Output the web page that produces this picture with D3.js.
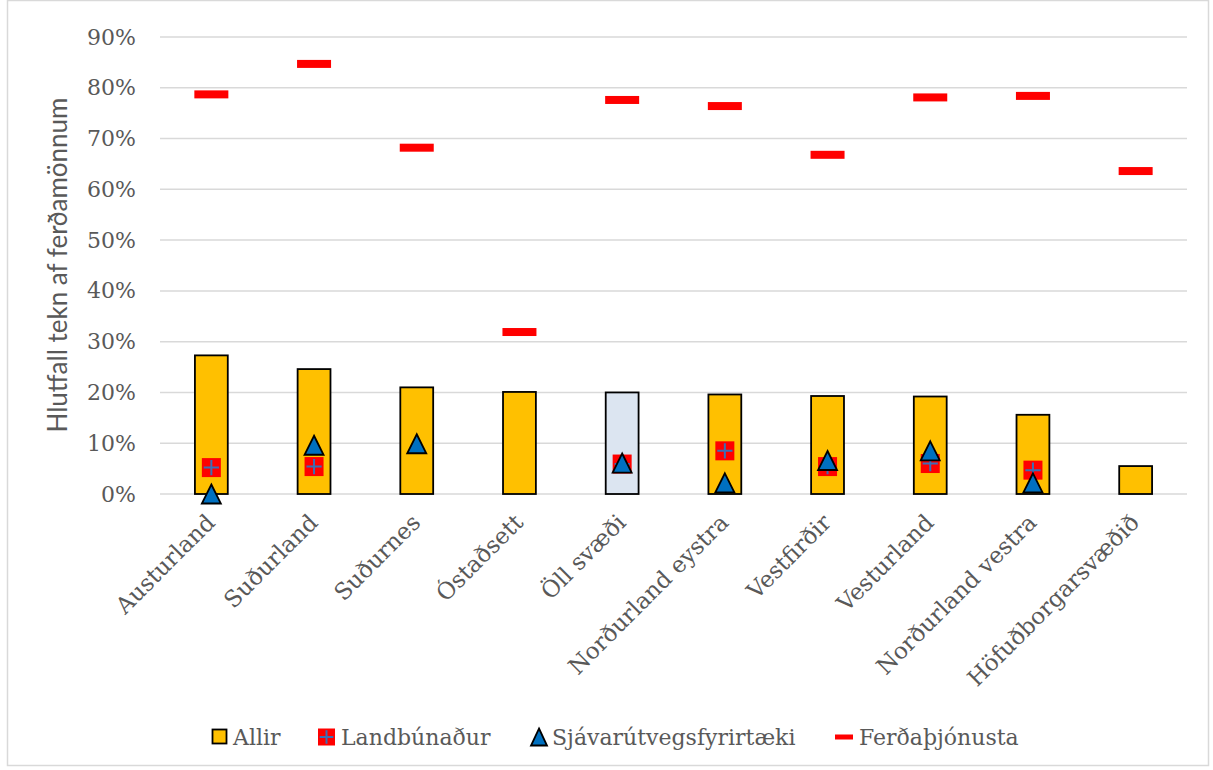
<!DOCTYPE html>
<html><head><meta charset="utf-8">
<script src="https://cdn.jsdelivr.net/npm/d3@7"></script>
<style>
html,body{margin:0;padding:0;background:#fff;}
svg{display:block;}
</style></head>
<body>
<svg id="chart" width="1213" height="770"></svg>
<script>
const categories = ["Austurland","Suðurland","Suðurnes","Óstaðsett","Öll svæði","Norðurland eystra","Vestfirðir","Vesturland","Norðurland vestra","Höfuðborgarsvæðið"];
const allir = [0.273,0.246,0.210,0.201,0.200,0.196,0.193,0.192,0.156,0.055];
const landbunadur = [0.052,0.054,null,null,0.059,0.085,0.054,0.060,0.047,null];
const sjavarutvegur = [0.000,0.096,0.099,null,0.061,0.022,0.066,0.085,0.022,null];
const ferdathjonusta = [0.787,0.847,0.682,0.319,0.776,0.764,0.668,0.781,0.784,0.636];
const yTicks = [0,0.1,0.2,0.3,0.4,0.5,0.6,0.7,0.8,0.9];
const seriesNames = ["Allir","Landbúnaður","Sjávarútvegsfyrirtæki","Ferðaþjónusta"];
const yTitle = "Hlutfall tekn af ferðamönnum";

const svg = d3.select("#chart");
const serif = "'DejaVu Serif', 'Liberation Serif', serif";
const sans = "Lato, 'Open Sans', 'Liberation Sans', sans-serif";
const grey = "#595959";

// outer border
svg.append("rect").attr("x",7.5).attr("y",0.5).attr("width",1201).attr("height",765)
  .attr("fill","none").attr("stroke","#d9d9d9").attr("stroke-width",1.5);

const x = d3.scaleBand().domain(categories).range([160,1187]).paddingInner(0.68).paddingOuter(0.34);
const y = d3.scaleLinear().domain([0,0.9]).range([494,37]);

// gridlines
svg.append("g").selectAll("line").data(yTicks).join("line")
  .attr("x1",160).attr("x2",1187).attr("y1",d=>y(d)).attr("y2",d=>y(d))
  .attr("stroke","#d9d9d9").attr("stroke-width",1.5);

// y axis
const yAxis = d3.axisLeft(y).tickValues(yTicks).tickFormat(d3.format(".0%")).tickSize(0).tickPadding(24);
const ya = svg.append("g").attr("transform","translate(160,0)").call(yAxis);
ya.select(".domain").remove();
ya.selectAll("text").attr("font-family",serif).attr("font-size",22).attr("fill",grey);

// x axis labels
const xAxis = d3.axisBottom(x).tickSize(0).tickPadding(0);
const xa = svg.append("g").attr("transform","translate(0,494)").call(xAxis);
xa.select(".domain").remove();
xa.selectAll("text").attr("font-family",serif).attr("font-size",23).attr("fill",grey)
  .attr("text-anchor","end").attr("dy",0).attr("y",0)
  .attr("transform","translate(5,30) rotate(-45)");

// y title
svg.append("text").attr("transform","translate(67,265) rotate(-90)")
  .attr("text-anchor","middle").attr("font-family",sans).attr("font-size",26).attr("fill",grey)
  .text(yTitle);

// bars
const cx = c => x(c) + x.bandwidth()/2;
svg.append("g").selectAll("rect").data(categories).join("rect")
  .attr("x",d=>x(d)).attr("width",x.bandwidth())
  .attr("y",(d,i)=>y(allir[i])).attr("height",(d,i)=>y(0)-y(allir[i]))
  .attr("fill",d=>d==="Öll svæði" ? "#DCE5F1" : "#FFC000")
  .attr("stroke","#000").attr("stroke-width",1.8);

// Landbúnaður markers
function squareMarker(g, s){
  g.append("rect").attr("x",-s/2).attr("y",-s/2).attr("width",s).attr("height",s).attr("fill","#FF0000");
  g.append("path").attr("d",`M${-s*0.4},0H${s*0.4}M0,${-s*0.4}V${s*0.4}`).attr("stroke","#3B6FB6").attr("stroke-width",2);
}
const lm = svg.append("g");
categories.forEach((c,i)=>{
  if(landbunadur[i]==null) return;
  const g = lm.append("g").attr("transform",`translate(${cx(c)},${y(landbunadur[i])})`);
  squareMarker(g,19);
});

// Sjávarútvegs markers
function triMarker(g, w, h){
  g.append("path").attr("d",`M0,${-h/2}L${w/2},${h/2}L${-w/2},${h/2}Z`)
    .attr("fill","#0070C0").attr("stroke","#000").attr("stroke-width",1.8).attr("stroke-linejoin","miter");
}
const sm = svg.append("g");
categories.forEach((c,i)=>{
  if(sjavarutvegur[i]==null) return;
  const g = sm.append("g").attr("transform",`translate(${cx(c)},${y(sjavarutvegur[i])})`);
  triMarker(g,19,19);
});

// Ferðaþjónusta dashes
svg.append("g").selectAll("rect").data(categories).join("rect")
  .attr("x",d=>cx(d)-17).attr("width",34)
  .attr("y",(d,i)=>y(ferdathjonusta[i])-4).attr("height",8)
  .attr("fill","#FF0000");

// legend
const lg = svg.append("g");
const ly = 737;
// Allir
lg.append("rect").attr("x",212.5).attr("y",ly-7.5).attr("width",14).attr("height",14)
  .attr("fill","#FFC000").attr("stroke","#000").attr("stroke-width",1.8);
// Landbúnaður
squareMarker(lg.append("g").attr("transform",`translate(326.5,${ly})`),17);
// Sjávarútvegs
triMarker(lg.append("g").attr("transform",`translate(539,${ly})`),16,17);
// Ferðaþjónusta
lg.append("rect").attr("x",835).attr("y",ly-2.5).attr("width",18).attr("height",5).attr("fill","#FF0000");
const textX = [233,341,552,859];
seriesNames.forEach((n,i)=>{
  lg.append("text").attr("x",textX[i]).attr("y",ly).attr("dy","0.35em")
    .attr("font-family",serif).attr("font-size",22).attr("fill",grey).text(n);
});
</script>
</body></html>
